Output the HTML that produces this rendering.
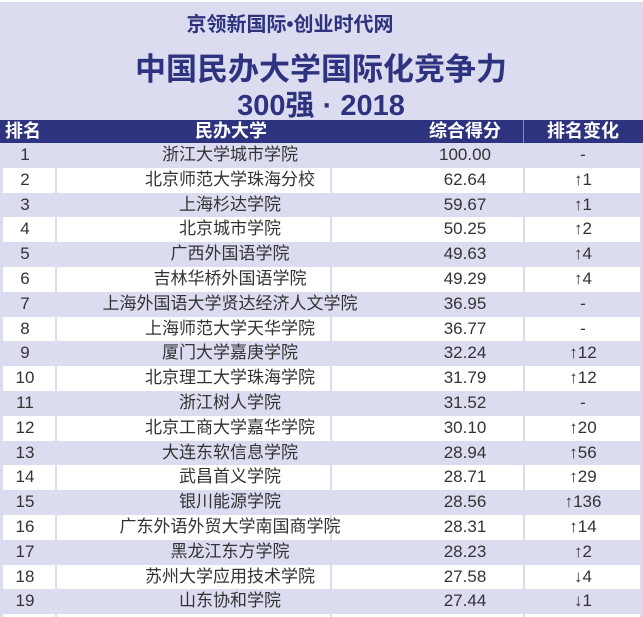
<!DOCTYPE html>
<html><head><meta charset="utf-8"><style>
html,body{margin:0;width:643px;height:617px;overflow:hidden;background:#fff;font-family:"Liberation Sans","Noto Sans CJK SC",sans-serif;}
#wrap{position:relative;width:643px;height:617px;overflow:hidden;}
.t{position:absolute;white-space:nowrap;transform:translateX(-50%);color:#2e3380;font-weight:bold;}
.row{position:absolute;left:0;width:643px;}
.c{position:absolute;white-space:nowrap;transform:translateX(-50%);color:#333;font-size:17px;line-height:24px;top:0;}
.vl{position:absolute;top:0;bottom:0;width:2px;background:#dcdcf0;}
.h{position:absolute;white-space:nowrap;color:#fff;font-weight:bold;font-size:18px;line-height:23px;top:0;transform:translateX(-50%);}
</style></head><body>
<div id="wrap">
<div style="position:absolute;left:0;top:2px;width:643px;height:118px;background:#dcdcf0;"></div>
<div class="t" style="left:290px;top:8px;font-size:20px;">京领新国际•创业时代网</div>
<div class="t" style="left:321px;top:44px;font-size:31px;">中国民办大学国际化竞争力</div>
<div class="t" style="left:321px;top:82px;font-size:29px;">300强 · 2018</div>
<div style="position:absolute;left:0;top:120px;width:643px;height:23px;background:#2e3380;">
<div class="h" style="left:23px;">排名</div>
<div class="h" style="left:231px;">民办大学</div>
<div class="h" style="left:465px;">综合得分</div>
<div style="position:absolute;left:523px;top:0;width:1px;height:23px;background:#8a8cc0;"></div>
<div class="h" style="left:583px;">排名变化</div>
</div>
<div id="rows"></div>
</div>
<script>
const ranks=["1","2","3","4","5","6","7","8","9","10","11","12","13","14","15","16","17","18","19"];
const names=["浙江大学城市学院","北京师范大学珠海分校","上海杉达学院","北京城市学院","广西外国语学院","吉林华桥外国语学院","上海外国语大学贤达经济人文学院","上海师范大学天华学院","厦门大学嘉庚学院","北京理工大学珠海学院","浙江树人学院","北京工商大学嘉华学院","大连东软信息学院","武昌首义学院","银川能源学院","广东外语外贸大学南国商学院","黑龙江东方学院","苏州大学应用技术学院","山东协和学院"];
const scores=[100.00,62.64,59.67,50.25,49.63,49.29,36.95,36.77,32.24,31.79,31.52,30.10,28.94,28.71,28.56,28.31,28.23,27.58,27.44];
const changes=["-","↑1","↑1","↑2","↑4","↑4","-","-","↑12","↑12","-","↑20","↑56","↑29","↑136","↑14","↑2","↓4","↓1"];
const host=document.getElementById('rows');
const top0=143, rh=24.8;
for(let i=0;i<=ranks.length;i++){
  const r=document.createElement('div');
  r.className='row';
  
  
  r.style.top=(top0+i*rh)+'px';
  r.style.height=rh+'px';
  r.style.background=(i%2===0)?'#dcdcf0':'#fff';
  if(i%2===1){
    [0,55,330,523,640].forEach(x=>{const v=document.createElement('div');v.className='vl';v.style.left=x+'px';v.style.width=(x===0||x===640?3:2)+'px';r.appendChild(v);});
  }
  if(i<ranks.length){
    const cells=[[ranks[i],25,'rank-cell'],[names[i],230,'university-cell'],[scores[i].toFixed(2),465,'score-cell'],[changes[i],583,'rank-change-cell']];
    cells.forEach(([t,x,n])=>{
      const c=document.createElement('div');
      c.className='c';
      
      
      c.style.left=x+'px';
      c.textContent=t;
      r.appendChild(c);
    });
  }
  host.appendChild(r);
}
</script>
</body></html>
